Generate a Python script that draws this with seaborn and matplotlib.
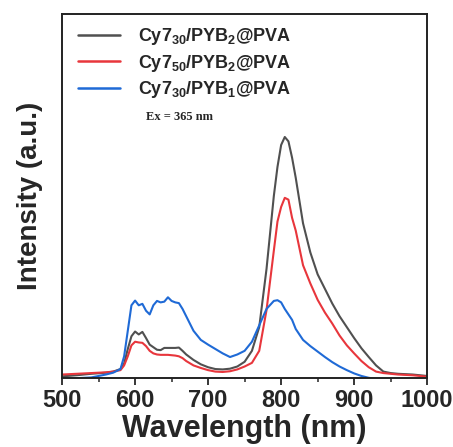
import numpy as np
import pandas as pd
import matplotlib
matplotlib.use("Agg")
import matplotlib.pyplot as plt
from matplotlib.ticker import MultipleLocator
import seaborn as sns

# Emission spectra (normalised intensity) of the three films
wavelength = [500, 520, 540, 560, 570, 580, 585, 590, 595, 600, 605, 610, 615, 620,
              625, 630, 635, 640, 645, 650, 655, 660, 665, 670, 680, 690, 700, 710,
              720, 730, 740, 750, 760, 770, 780, 790, 795, 800, 805, 810, 815, 820,
              830, 840, 850, 860, 870, 880, 890, 900, 910, 920, 930, 940, 950, 960,
              980, 1000]

cy7_30_pyb2 = [0.005, 0.008, 0.012, 0.015, 0.018, 0.025, 0.040, 0.080, 0.115, 0.128,
               0.120, 0.127, 0.110, 0.092, 0.085, 0.078, 0.077, 0.083, 0.083, 0.083,
               0.083, 0.084, 0.075, 0.065, 0.050, 0.038, 0.030, 0.025, 0.024, 0.026,
               0.032, 0.045, 0.075, 0.140, 0.300, 0.500, 0.580, 0.640, 0.662, 0.650,
               0.605, 0.550, 0.425, 0.345, 0.285, 0.245, 0.205, 0.170, 0.140, 0.110,
               0.082, 0.058, 0.035, 0.018, 0.014, 0.012, 0.010, 0.006]

cy7_50_pyb2 = [0.010, 0.012, 0.014, 0.016, 0.018, 0.022, 0.035, 0.060, 0.090, 0.100,
               0.098, 0.097, 0.088, 0.075, 0.068, 0.065, 0.064, 0.064, 0.064, 0.063,
               0.062, 0.060, 0.055, 0.047, 0.035, 0.028, 0.022, 0.018, 0.017, 0.019,
               0.024, 0.032, 0.042, 0.075, 0.187, 0.350, 0.430, 0.470, 0.495, 0.490,
               0.440, 0.405, 0.310, 0.260, 0.215, 0.180, 0.150, 0.117, 0.090, 0.068,
               0.047, 0.030, 0.018, 0.014, 0.012, 0.010, 0.008, 0.004]

cy7_30_pyb1 = [0.000, 0.000, 0.002, 0.010, 0.015, 0.025, 0.060, 0.130, 0.200, 0.213,
               0.200, 0.204, 0.185, 0.175, 0.200, 0.212, 0.208, 0.210, 0.222, 0.212,
               0.208, 0.206, 0.190, 0.170, 0.130, 0.105, 0.092, 0.080, 0.068, 0.058,
               0.065, 0.075, 0.100, 0.145, 0.190, 0.212, 0.214, 0.208, 0.190, 0.175,
               0.160, 0.135, 0.105, 0.088, 0.073, 0.058, 0.044, 0.032, 0.022, 0.013,
               0.006, 0.001, -0.002, -0.003, -0.003, -0.003, -0.003, -0.003]

labels = [r"Cy7$_{\mathbf{30}}$/PYB$_{\mathbf{2}}$@PVA",
          r"Cy7$_{\mathbf{50}}$/PYB$_{\mathbf{2}}$@PVA",
          r"Cy7$_{\mathbf{30}}$/PYB$_{\mathbf{1}}$@PVA"]
colors = ["#505050", "#e8363c", "#1f6ad6"]
series = [cy7_30_pyb2, cy7_50_pyb2, cy7_30_pyb1]

xticks = [500, 600, 700, 800, 900, 1000]

sns.set_style("ticks")
plt.rcParams["font.family"] = ["Liberation Sans", "DejaVu Sans"]
plt.rcParams["mathtext.fontset"] = "custom"
plt.rcParams["mathtext.rm"] = "Liberation Sans:bold"
plt.rcParams["mathtext.bf"] = "Liberation Sans:bold"

fig = plt.figure(figsize=(4.53, 4.47), dpi=100)
ax = fig.add_axes([0.137, 0.154, 0.806, 0.815])

for vals, lab, col in zip(series, labels, colors):
    df = pd.DataFrame({"Wavelength": wavelength, "Intensity": vals})
    sns.lineplot(data=df, x="Wavelength", y="Intensity", ax=ax, color=col,
                 linewidth=1.5, label=lab)

ax.set_xlim(500, 1000)
ax.set_ylim(0, 1.0)
ax.set_xticks(xticks)
ax.set_xticklabels([str(t) for t in xticks])
ax.xaxis.set_minor_locator(MultipleLocator(50))
ax.set_yticks([])

ax.tick_params(axis="x", which="major", direction="out", length=5, width=1.3,
               labelsize=17, pad=3)
ax.tick_params(axis="x", which="minor", direction="out", length=3, width=1.1)
for lab in ax.get_xticklabels():
    lab.set_fontweight("bold")

for sp in ax.spines.values():
    sp.set_visible(True)
    sp.set_linewidth(1.4)
    sp.set_color("#222222")

ax.set_xlabel("Wavelength (nm)", fontsize=22, fontweight="bold", labelpad=1)
ax.set_ylabel("Intensity (a.u.)", fontsize=20, fontweight="bold", labelpad=14)

leg = ax.legend(loc="upper left", bbox_to_anchor=(0.044, 0.967), frameon=False,
                borderaxespad=0, borderpad=0, handlelength=2.3,
                handletextpad=1.0, labelspacing=0.32,
                prop={"weight": "bold", "size": 13})
for h in leg.get_lines():
    h.set_linewidth(1.8)

ax.text(0.23, 0.717, "Ex = 365 nm", transform=ax.transAxes, va="center",
        fontsize=9, fontweight="bold", family="Liberation Serif")

fig.savefig("out.png", dpi=100)
